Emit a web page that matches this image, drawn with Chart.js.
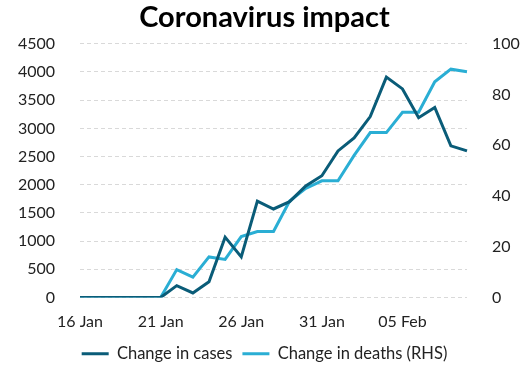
<!DOCTYPE html>
<html>
<head>
<meta charset="utf-8">
<script src="https://cdn.jsdelivr.net/npm/chart.js@4"></script>
<style>
  html, body { margin: 0; padding: 0; background: #fff; }
  #wrap { width: 529px; height: 378px; }
</style>
</head>
<body>
<div id="wrap"><canvas id="impactChart" width="529" height="378"></canvas></div>
<script>
const dates = ['16 Jan', '17 Jan', '18 Jan', '19 Jan', '20 Jan', '21 Jan', '22 Jan', '23 Jan', '24 Jan', '25 Jan',
    '26 Jan', '27 Jan', '28 Jan', '29 Jan', '30 Jan', '31 Jan', '01 Feb', '02 Feb', '03 Feb', '04 Feb',
    '05 Feb', '06 Feb', '07 Feb', '08 Feb', '09 Feb'];
const casesChange = [0, 0, 0, 0, 0, 0, 210, 80, 280, 1070, 720, 1710, 1570, 1700, 1980, 2160, 2600, 2830, 3210, 3910,
    3700, 3190, 3370, 2690, 2600];
const deathsChange = [0, 0, 0, 0, 0, 0, 11, 8, 16, 15, 24, 26, 26, 38, 43, 46, 46, 56, 65, 65,
    73, 73, 85, 90, 89];
const leftTicks = [0, 500, 1000, 1500, 2000, 2500, 3000, 3500, 4000, 4500];
const rightTicks = [0, 20, 40, 60, 80, 100];

const darkTeal = '#0a5c78';
const lightBlue = '#2aaed4';
const tickFont = { family: 'Lato', size: 16 };

new Chart(document.getElementById('impactChart').getContext('2d'), {
    type: 'line',
    data: {
        labels: dates,
        datasets: [{
            label: 'Change in cases',
            data: casesChange,
            borderColor: darkTeal,
            backgroundColor: darkTeal,
            borderWidth: 3,
            pointRadius: 0,
            tension: 0,
            yAxisID: 'y'
        }, {
            label: 'Change in deaths (RHS)',
            data: deathsChange,
            borderColor: lightBlue,
            backgroundColor: lightBlue,
            borderWidth: 3,
            pointRadius: 0,
            tension: 0,
            yAxisID: 'y1'
        }]
    },
    options: {
        responsive: false,
        animation: false,
        layout: { padding: { top: 0, bottom: 6, left: 0, right: 0 } },
        plugins: {
            title: {
                display: true,
                text: 'Coronavirus impact',
                color: '#000',
                font: { family: 'Lato', size: 29, weight: 'bold' },
                padding: { top: 0, bottom: 9 }
            },
            legend: {
                position: 'bottom',
                labels: {
                    color: '#222',
                    font: { family: 'Lato', size: 16.5 },
                    usePointStyle: true,
                    pointStyle: 'line',
                    pointStyleWidth: 27,
                    boxHeight: 16,
                    padding: 10
                }
            },
            tooltip: { enabled: false }
        },
        scales: {
            x: {
                grid: { display: false, drawTicks: false },
                border: { display: false },
                ticks: {
                    color: '#222',
                    font: tickFont,
                    autoSkip: false,
                    maxRotation: 0,
                    padding: 15,
                    callback: function(val, i) { return i % 5 === 0 ? dates[i] : ''; }
                },
                afterFit: function(s) { s.height = 38; }
            },
            y: {
                position: 'left',
                min: 0,
                max: 4500,
                afterBuildTicks: function(s) { s.ticks = leftTicks.map(v => ({ value: v })); },
                grid: { color: '#d9d9d9', drawTicks: false },
                border: { display: false, dash: [4, 3] },
                ticks: { color: '#222', font: tickFont, padding: 25, callback: v => String(v) },
                afterFit: function(s) { s.width = 80; }
            },
            y1: {
                position: 'right',
                min: 0,
                max: 100,
                afterBuildTicks: function(s) { s.ticks = rightTicks.map(v => ({ value: v })); },
                grid: { display: false, drawTicks: false },
                border: { display: false },
                ticks: { color: '#222', font: tickFont, padding: 25, callback: v => String(v) },
                afterFit: function(s) { s.width = 62; }
            }
        }
    }
});
</script>
</body>
</html>
